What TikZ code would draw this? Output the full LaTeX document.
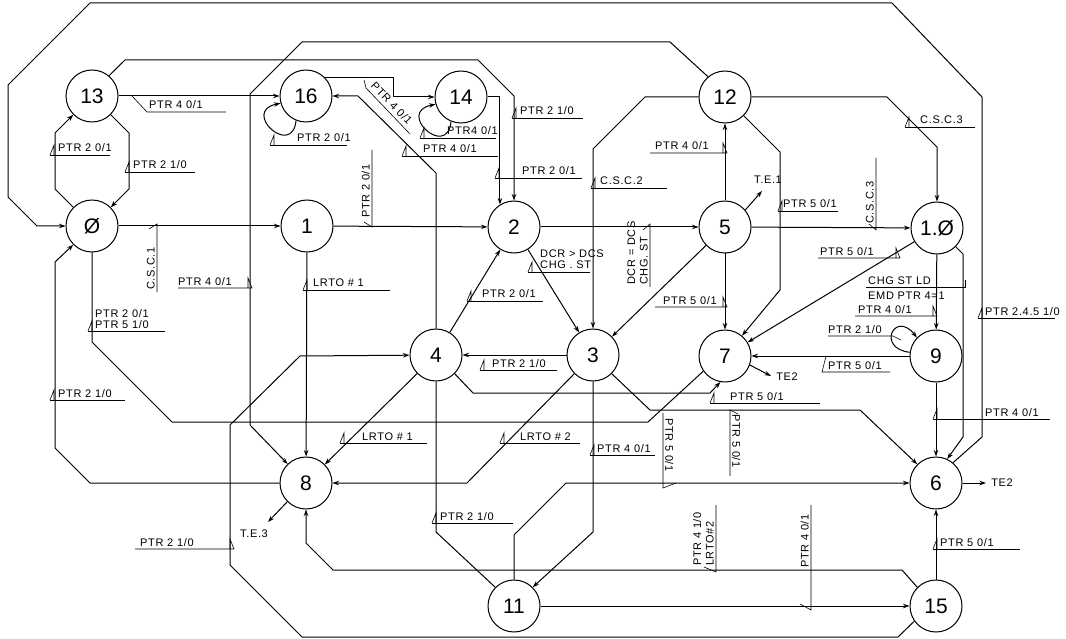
\documentclass[tikz,border=0pt]{standalone}
\usepackage{fontspec}
\setmainfont{Liberation Sans}
\newfontfamily\tagfont[LetterSpace=6]{Liberation Sans}
\usetikzlibrary{arrows, arrows.meta}
\tikzset{
    state/.style={circle, draw=black, line width=1pt, minimum size=52pt, inner sep=0pt, font=\fontsize{21}{21}\selectfont},
    tag/.style={font=\tagfont\fontsize{11}{12.5}\selectfont, inner sep=0pt},
    tagline/.style={line width=0.6pt},
    arrow/.style={line width=1pt,-{Stealth[length=6.5pt,width=4.5pt]}},
    wire/.style={line width=1pt}
}
\newcommand{\tagL}[6]{\draw[tagline] (#2,#4) -- (#2+4,#4-10) -- (#2+4,#4); \draw[tagline] (#2,#4) -- (#3,#4); \node[tag, anchor=base west] (#1) at (#5,#4-3) {#6};}
\newcommand{\tagR}[6]{\draw[tagline] (#2,#4) -- (#3,#4) -- (#3-4,#4-10) -- (#3-4,#4); \node[tag, anchor=base west] (#1) at (#5,#4-3) {#6};}

\begin{document}
\begin{tikzpicture}[x=1pt, y=-1pt]
    \useasboundingbox (0,0) rectangle (1066,639);

    \node[state] (s13) at (92,96) {13};
    \node[state] (s16) at (306,96) {16};
    \node[state] (s14) at (461,97) {14};
    \node[state] (s12) at (725,97) {12};
    \node[state] (s0) at (92,226) {Ø};
    \node[state] (s1) at (307,226) {1};
    \node[state] (s2) at (514,227) {2};
    \node[state] (s5) at (725,227) {5};
    \node[state] (s10) at (937,228) {1.Ø};
    \node[state] (s4) at (436,355) {4};
    \node[state] (s3) at (593,355) {3};
    \node[state] (s7) at (725,356) {7};
    \node[state] (s9) at (936,356) {9};
    \node[state] (s8) at (306,483) {8};
    \node[state] (s6) at (936,483) {6};
    \node[state] (s11) at (514,606) {11};
    \node[state] (s15) at (936,606) {15};

    \draw[arrow] (s6.50) -- (982,437) -- (982,97) -- (892,3) -- (90,3) -- (8,85) -- (8,197) -- (37,226) -- (s0);
    \draw[arrow] (s13.50) -- (125,60) -- (478,60) -- (514,96) -- (s2);
    \draw[arrow] (s12.130) -- (670,42) -- (302,42) -- (250,94) -- (250,425) -- (s8);
    \draw[arrow] (s0.135) -- (55,189) -- (55,133) -- (s13.225);
    \draw[arrow] (s13.315) -- (129,133) -- (129,189) -- (s0.45);
    \draw[arrow] (s13) -- (s16);
    \draw[arrow] (s16.45) -| (393,97) -- (s14);
    \draw[arrow] (s4) -- (436,173) -- (358,96) -- (s16);
    \draw[arrow] (s14) -| (s2.122);
    \draw[arrow] (s16.248) .. controls +(-4,38) and +(-40,8) .. (s16.196);
    \draw[arrow] (s14.248) .. controls +(-4,38) and +(-40,8) .. (s14.196);
    \draw[arrow] (s0) -- (s1);
    \draw[arrow] (s1) -- (s2);
    \draw[arrow] (s2) -- (s5);
    \draw[arrow] (s5) -- (s10);
    \draw[arrow] (s5) -- (s12);
    \coordinate (te1tip) at (762,191);
    \draw[arrow] (s5.40) -- (te1tip);
    \node[tag] (te1) at (768,180) {T.E.1};
    \draw[arrow] (s12) -- (887,97) -- (937,147) -- (s10);
    \draw[arrow] (s12.315) -- (780,152) -- (780,290) -- (s7.50);
    \draw[arrow] (s12) -- (645,97) -- (593,149) -- (s3);
    \draw[arrow] (s5) -- (s3);
    \draw[arrow] (s5) -- (s7);
    \draw[arrow] (s10) -- (s7);
    \draw[arrow] (s10) -- (s9);
    \draw[arrow] (s10.315) -- (963,254) -- (963,437) -- (s6.65);
    \draw[arrow] (s9.172) .. controls +(-34,-4) and +(-22,-28) .. (s9.136);
    \draw[arrow] (s9) -- (s7);
    \draw[arrow] (s9) -- (s6);
    \coordinate (te2tip) at (771,376);
    \draw[arrow] (s7.-20) -- (te2tip);
    \node[tag] (te2) at (787,377) {TE2};
    \coordinate (te4tip) at (986,483);
    \draw[arrow] (s6) -- (te4tip);
    \node[tag] (te4) at (1002,483) {TE2};
    \draw[arrow] (s15) -- (s6);
    \draw[arrow] (s11) -- (s15);
    \draw[arrow] (s15.135) -- (902,570) -- (333,570) -- (306,543) -- (s8);
    \draw[arrow] (s15.215) -- (898,637) -- (302,637) -- (230,565) -- (230,425) -- (300,356) -- (s4);
    \draw[arrow] (s4) -- (s2);
    \draw[arrow] (s2) -- (s3);
    \draw[arrow] (s3) -- (s4);
    \draw[arrow] (s4) -- (s8);
    \draw[arrow] (s1) -- (s8);
    \draw[arrow] (s4.315) -- (473,393) -- (710,393) -- (s7.260);
    \draw[arrow] (s3.315) -- (650,410) -- (860,410) -- (s6.135);
    \draw[wire] (s7.215) -- (648,422) -- (172,422) -- (92,342) -- (s0);
    \draw[arrow] (s3.225) -- (467,483) -- (s8);
    \draw[arrow] (s11) -- (514,535) -- (566,483) -- (s6);
    \draw[wire] (s4) -- (436,532) -- (s11.135);
    \draw[arrow] (s3) -- (593,532) -- (s11.45);
    \draw[arrow] (s8) -- (90,483) -- (55,448) -- (55,262) -- (s0.225);
    \coordinate (te3tip) at (268,522);
    \draw[arrow] (s8.225) -- (te3tip);
    \node[tag] (te3) at (254,534) {T.E.3};

    \draw[tagline] (132,96) -- (147,112) -- (226,112);
    \node[tag, anchor=base west] (l1) at (149,109) {PTR 4 0/1};
    \tagL{l2}{50}{110}{155}{58}{PTR 2 0/1}
    \tagL{l3}{125}{195}{172}{133}{PTR 2 1/0}
    \tagL{l4}{270}{347}{145}{297}{PTR 2 0/1}
    \tagL{l5}{420}{496}{138}{447}{PTR4 0/1}
    \tagL{l6}{402}{498}{156}{423}{PTR 4 0/1}
    \tagL{l7}{512}{583}{118}{520}{PTR 2 1/0}
    \tagL{l8}{495}{582}{178}{522}{PTR 2 0/1}
    \tagL{l9}{591}{667}{188}{600}{C.S.C.2}
    \tagR{l10}{650}{727}{153}{655}{PTR 4 0/1}
    \tagL{l11}{905}{975}{127}{920}{C.S.C.3}
    \tagL{l12}{778}{838}{211}{783}{PTR 5 0/1}
    \tagR{l13}{178}{252}{288}{178}{PTR 4 0/1}
    \tagL{l14}{88}{165}{331}{95}{PTR 5 1/0}
    \node[tag, anchor=base west] (l14b) at (95,317) {PTR 2 0/1};
    \tagL{l15}{50}{125}{400}{58}{PTR 2 1/0}
    \tagL{l16}{303}{390}{290}{313}{LRTO \# 1}
    \tagL{l17}{467}{543}{301}{482}{PTR 2 0/1}
    \tagL{l18}{528}{590}{272}{540}{CHG . ST}
    \node[tag, anchor=base west] (l18b) at (540,258) {DCR > DCS};
    \tagL{l19}{480}{557}{370}{492}{PTR 2 1/0}
    \tagR{l20}{655}{727}{307}{663}{PTR 5 0/1}
    \tagR{l21}{818}{900}{258}{820}{PTR 5 0/1}
    \draw[tagline] (866,287) -- (965,287) -- (965,280);
    \node[tag, anchor=base west] (l22) at (868,284) {CHG ST LD};
    \node[tag, anchor=base west] (l22b) at (868,299) {EMD PTR 4=1};
    \tagR{l23}{855}{937}{316}{858}{PTR 4 0/1}
    \draw[tagline] (828,336) -- (893,336) -- (901,340);
    \node[tag, anchor=base west] (l24) at (828,333) {PTR 2 1/0};
    \draw[tagline] (826,356) -- (822,372) -- (890,372);
    \node[tag, anchor=base west] (l25) at (828,369) {PTR 5 0/1};
    \tagL{l26}{978}{1055}{318}{985}{PTR 2.4.5 1/0}
    \tagL{l27}{933}{1050}{419}{985}{PTR 4 0/1}
    \tagL{l28}{710}{820}{403}{730}{PTR 5 0/1}
    \tagL{l29}{340}{427}{443}{362}{LRTO \# 1}
    \tagL{l30}{500}{580}{443}{520}{LRTO \# 2}
    \tagL{l31}{590}{655}{455}{597}{PTR 4 0/1}
    \tagL{l32}{432}{513}{523}{440}{PTR 2 1/0}
    \tagR{l33}{135}{234}{549}{140}{PTR 2 1/0}
    \tagL{l34}{933}{1020}{549}{940}{PTR 5 0/1}

    \draw[tagline] (157,292) -- (157,224) -- (149,229);
    \node[tag, rotate=90, anchor=south west] (l39) at (155,290) {C.S.C.1};
    \draw[tagline] (372,150) -- (372,227) -- (364,222);
    \node[tag, rotate=90, anchor=south west] (l40) at (370,218) {PTR 2 0/1};
    \draw[tagline] (650,287) -- (650,224) -- (643,230);
    \node[tag, rotate=90, anchor=south west, align=left] (l41) at (648,285) {DCR = DCS\\CHG. ST};
    \draw[tagline] (876,158) -- (876,230) -- (869,224);
    \node[tag, rotate=90, anchor=south west] (l42) at (874,224) {C.S.C.3};
    \draw[tagline] (811,505) -- (811,610) -- (800,604);
    \node[tag, rotate=90, anchor=south west] (l35) at (809,568) {PTR 4 0/1};
    \draw[tagline] (716,505) -- (716,572) -- (704,567);
    \node[tag, rotate=90, anchor=south west, align=left] (l36) at (714,566) {PTR 4 1/0\\LRTO\#2};
    \draw[tagline] (663,413) -- (663,488) -- (676,483);
    \node[tag, rotate=-90, anchor=south west] (l37) at (665,418) {PTR 5 0/1};
    \draw[tagline] (730,476) -- (730,410) -- (738,414);
    \node[tag, rotate=-90, anchor=south west] (l38) at (732,414) {PTR 5 0/1};
    \draw[tagline] (364,80) -- (366,88) -- (410,134);
    \node[tag, rotate=-46, anchor=south west] (l43) at (370,87) {PTR 4 0/1};
\end{tikzpicture}
\end{document}
